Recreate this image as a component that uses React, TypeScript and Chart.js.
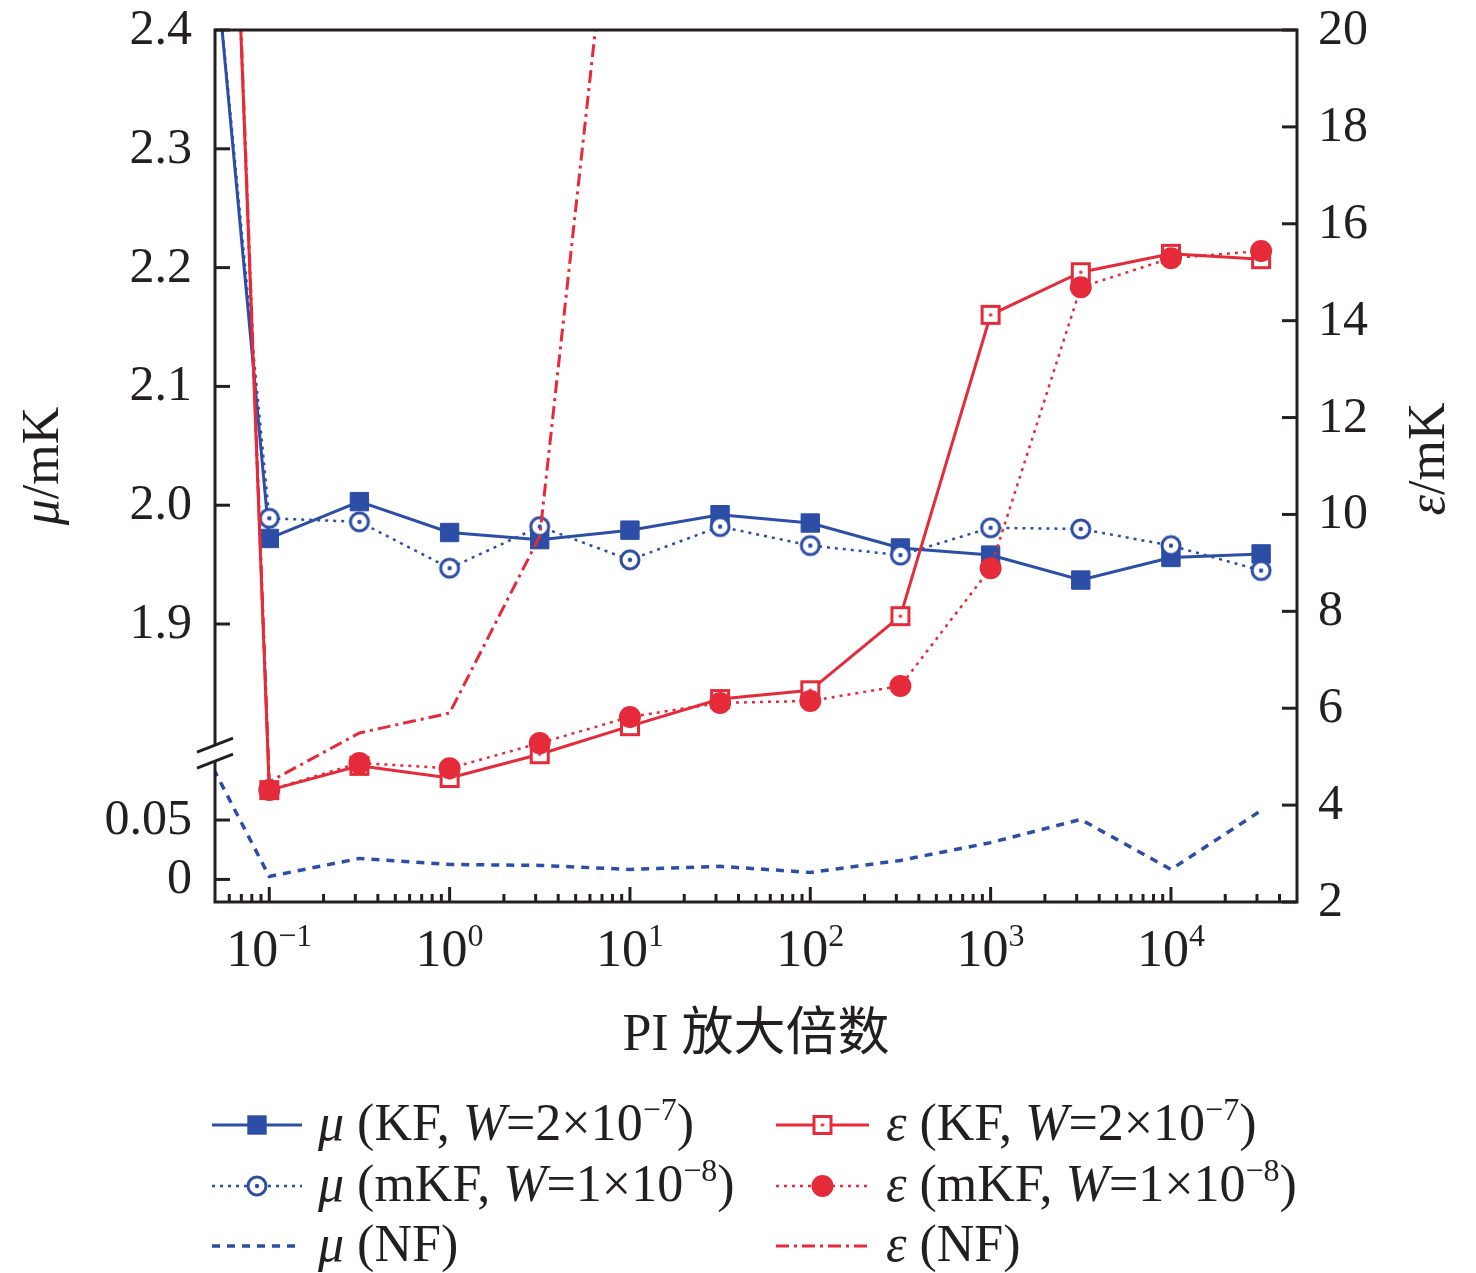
import { useEffect, useRef } from 'react';
import { Chart, registerables } from 'chart.js';
import type { Plugin } from 'chart.js';

Chart.register(...registerables);

// PI gain, half-decade steps (first point lies left of the plotted range)
const PI_GAIN = [0.0316, 0.1, 0.316, 1, 3.16, 10, 31.6, 100, 316, 1000, 3162, 10000, 31623];

// μ in mK (left axis, broken)
const MU_KF = [2.79, 1.972, 2.003, 1.977, 1.971, 1.979, 1.992, 1.985, 1.964, 1.958, 1.937, 1.956, 1.959];
const MU_MKF = [2.78, 1.989, 1.986, 1.947, 1.982, 1.954, 1.982, 1.966, 1.958, 1.981, 1.98, 1.966, 1.945];
const MU_NF = [0.149, 0.0025, 0.0177, 0.0126, 0.0118, 0.0084, 0.011, 0.0059, 0.016, 0.031, 0.0505, 0.0084, 0.058];

// ε in mK (right axis)
const EPS_KF = [54, 4.31, 4.81, 4.56, 5.05, 5.63, 6.19, 6.37, 7.9, 14.12, 15.0, 15.38, 15.27];
const EPS_MKF = [54, 4.31, 4.87, 4.76, 5.28, 5.82, 6.11, 6.15, 6.46, 8.89, 14.69, 15.29, 15.44];
const EPS_NF = [54, 4.48, 5.49, 5.9, 9.55, 26.5];

const X_TICKS = [0.1, 1, 10, 100, 1000, 10000];
const MU_TICKS = [0, 0.05, 1.9, 2.0, 2.1, 2.2, 2.3, 2.4];
const MU_TICK_LABELS = ['0', '0.05', '1.9', '2.0', '2.1', '2.2', '2.3', '2.4'];
const EPS_TICKS = [2, 4, 6, 8, 10, 12, 14, 16, 18, 20];

type Seg = { t: string; i?: boolean; sup?: boolean };

const LEGEND_LABELS: Seg[][] = [
  [{ t: 'μ', i: true }, { t: ' (KF, ' }, { t: 'W', i: true }, { t: '=2×10' }, { t: '−7', sup: true }, { t: ')' }],
  [{ t: 'μ', i: true }, { t: ' (mKF, ' }, { t: 'W', i: true }, { t: '=1×10' }, { t: '−8', sup: true }, { t: ')' }],
  [{ t: 'μ', i: true }, { t: ' (NF)' }],
  [{ t: 'ε', i: true }, { t: ' (KF, ' }, { t: 'W', i: true }, { t: '=2×10' }, { t: '−7', sup: true }, { t: ')' }],
  [{ t: 'ε', i: true }, { t: ' (mKF, ' }, { t: 'W', i: true }, { t: '=1×10' }, { t: '−8', sup: true }, { t: ')' }],
  [{ t: 'ε', i: true }, { t: ' (NF)' }],
];
const X_TITLE = 'PI 放大倍数';
const MU_TITLE: Seg[] = [{ t: 'μ', i: true }, { t: '/mK' }];
const EPS_TITLE: Seg[] = [{ t: 'ε', i: true }, { t: '/mK' }];

// broken left axis: values below 1 are drawn in the lower segment
const MU_AXIS_MIN = 1.666;
const MU_AXIS_MAX = 2.4;
const MU_BREAK = 1.793;
const MU_SHIFT = 1.685;
const muAxis = (v: number) => (v < 1 ? v + MU_SHIFT : v);

const BLUE = '#2d4ea6';
const RED = '#e52b3a';
const INK = '#231f20';
const FONT = '"Liberation Serif", "Times New Roman", "Noto Sans CJK SC", serif';
const FS = 50;

function segFont(s: Seg, size: number) {
  const sz = s.sup ? Math.round(size * 0.62) : size;
  return `${s.i ? 'italic ' : ''}${sz}px ${FONT}`;
}

function richWidth(ctx: CanvasRenderingContext2D, segs: Seg[], size: number) {
  let w = 0;
  for (const s of segs) {
    ctx.font = segFont(s, size);
    w += ctx.measureText(s.t).width;
  }
  return w;
}

function drawRich(ctx: CanvasRenderingContext2D, segs: Seg[], x: number, y: number, size: number) {
  let cx = x;
  ctx.textAlign = 'left';
  ctx.textBaseline = 'alphabetic';
  for (const s of segs) {
    ctx.font = segFont(s, size);
    ctx.fillText(s.t, cx, s.sup ? y - size * 0.38 : y);
    cx += ctx.measureText(s.t).width;
  }
}

function makeMarker(size: number, draw: (ctx: CanvasRenderingContext2D) => void) {
  const c = document.createElement('canvas');
  c.width = size;
  c.height = size;
  const ctx = c.getContext('2d');
  if (ctx) draw(ctx);
  return c;
}

function drawLegendMarker(ctx: CanvasRenderingContext2D, ds: any, x: number, y: number) {
  const ps = ds.pointStyle;
  if (ps instanceof HTMLCanvasElement) {
    ctx.drawImage(ps, x - ps.width / 2, y - ps.height / 2);
  } else if (ds.pointRadius > 0) {
    ctx.fillStyle = ds.pointBackgroundColor;
    if (ps === 'rect') {
      const s = ds.pointRadius * Math.SQRT1_2 + 0.5;
      ctx.fillRect(x - s, y - s, 2 * s, 2 * s);
    } else {
      ctx.beginPath();
      ctx.arc(x, y, ds.pointRadius, 0, Math.PI * 2);
      ctx.fill();
    }
  }
}

const framePlugin: Plugin<'line'> = {
  id: 'frame',
  afterDraw(chart) {
    const { ctx, chartArea: a } = chart;
    const xs = chart.scales.x;
    const yMu = chart.scales.yMu;
    const yEps = chart.scales.yEps;
    ctx.save();
    ctx.strokeStyle = INK;
    ctx.fillStyle = INK;
    ctx.lineWidth = 3;
    ctx.lineJoin = 'miter';
    ctx.lineCap = 'butt';

    // box with a gap on the left axis at the break
    const by = yMu.getPixelForValue(MU_BREAK) + 2;
    ctx.beginPath();
    ctx.moveTo(a.left, by - 8);
    ctx.lineTo(a.left, a.top);
    ctx.lineTo(a.right, a.top);
    ctx.lineTo(a.right, a.bottom);
    ctx.lineTo(a.left, a.bottom);
    ctx.lineTo(a.left, by + 8);
    ctx.stroke();
    for (const d of [-8, 8]) {
      ctx.beginPath();
      ctx.moveTo(a.left - 18, by + d + 7);
      ctx.lineTo(a.left + 18, by + d - 7);
      ctx.stroke();
    }

    // left ticks and labels
    MU_TICKS.forEach((v, i) => {
      const py = yMu.getPixelForValue(muAxis(v));
      ctx.beginPath();
      ctx.moveTo(a.left, py);
      ctx.lineTo(a.left + 15, py);
      ctx.stroke();
      ctx.font = `${FS}px ${FONT}`;
      ctx.textAlign = 'right';
      ctx.textBaseline = 'alphabetic';
      ctx.fillText(MU_TICK_LABELS[i], a.left - 23, py + 14);
    });

    // right ticks and labels
    EPS_TICKS.forEach((v) => {
      const py = yEps.getPixelForValue(v);
      ctx.beginPath();
      ctx.moveTo(a.right - 15, py);
      ctx.lineTo(a.right, py);
      ctx.stroke();
      ctx.font = `${FS}px ${FONT}`;
      ctx.textAlign = 'left';
      ctx.textBaseline = 'alphabetic';
      ctx.fillText(String(v), a.right + 21, py + 14);
    });

    // x minor ticks
    const xmin = xs.min;
    const xmax = xs.max;
    for (let d = -2; d <= 4; d++) {
      for (let m = 2; m <= 9; m++) {
        const v = m * Math.pow(10, d);
        if (v <= xmin * 1.001 || v >= xmax * 0.999) continue;
        const px = xs.getPixelForValue(v);
        ctx.beginPath();
        ctx.moveTo(px, a.bottom);
        ctx.lineTo(px, a.bottom - 8);
        ctx.stroke();
      }
    }
    // x major ticks and labels
    X_TICKS.forEach((v) => {
      const px = xs.getPixelForValue(v);
      ctx.beginPath();
      ctx.moveTo(px, a.bottom);
      ctx.lineTo(px, a.bottom - 15);
      ctx.stroke();
      const e = Math.round(Math.log10(v));
      const segs: Seg[] = [{ t: '10' }, { t: e < 0 ? '−' + -e : String(e), sup: true }];
      const w = richWidth(ctx, segs, FS + 2);
      drawRich(ctx, segs, px - w / 2, a.bottom + 64, FS + 2);
    });

    // axis titles
    ctx.font = `${FS + 2}px ${FONT}`;
    ctx.textAlign = 'center';
    ctx.textBaseline = 'alphabetic';
    ctx.fillText(X_TITLE, (a.left + a.right) / 2, 1050);

    const rotTitle = (segs: Seg[], bx: number, cy: number) => {
      ctx.save();
      ctx.translate(bx, cy);
      ctx.rotate(-Math.PI / 2);
      const w = richWidth(ctx, segs, FS + 2);
      drawRich(ctx, segs, -w / 2, 0, FS + 2);
      ctx.restore();
    };
    rotTitle(MU_TITLE, 58, 466);
    rotTitle(EPS_TITLE, 1444, 459);

    // legend, two columns of three rows
    const sampleX = [[212, 302], [776, 869]];
    const textX = [318, 886];
    const rowY = [1125, 1186, 1246];
    chart.data.datasets.forEach((ds: any, i) => {
      const col = i < 3 ? 0 : 1;
      const y = rowY[i % 3];
      const [x0, x1] = sampleX[col];
      ctx.save();
      ctx.strokeStyle = ds.borderColor;
      ctx.lineWidth = ds.borderWidth;
      ctx.setLineDash(ds.borderDash || []);
      ctx.beginPath();
      ctx.moveTo(x0, y);
      ctx.lineTo(x1, y);
      ctx.stroke();
      ctx.restore();
      drawLegendMarker(ctx, ds, (x0 + x1) / 2, y);
      ctx.fillStyle = INK;
      drawRich(ctx, LEGEND_LABELS[i], textX[col], y + 15, FS + 2);
    });

    ctx.restore();
  },
};

export default function App() {
  const canvasRef = useRef<HTMLCanvasElement | null>(null);
  const chartInstance = useRef<Chart | null>(null);

  useEffect(() => {
    if (!canvasRef.current) return;
    if (chartInstance.current) chartInstance.current.destroy();

    const circleDot = makeMarker(26, (ctx) => {
      ctx.fillStyle = '#fff';
      ctx.strokeStyle = BLUE;
      ctx.lineWidth = 3;
      ctx.beginPath();
      ctx.arc(13, 13, 9, 0, Math.PI * 2);
      ctx.fill();
      ctx.stroke();
      ctx.fillStyle = BLUE;
      ctx.beginPath();
      ctx.arc(13, 13, 2.2, 0, Math.PI * 2);
      ctx.fill();
    });
    const squareDot = makeMarker(24, (ctx) => {
      ctx.fillStyle = '#fff';
      ctx.strokeStyle = RED;
      ctx.lineWidth = 3;
      ctx.fillRect(3.5, 3.5, 17, 17);
      ctx.strokeRect(3.5, 3.5, 17, 17);
      ctx.fillStyle = RED;
      ctx.beginPath();
      ctx.arc(12, 12, 1.8, 0, Math.PI * 2);
      ctx.fill();
    });

    const pts = (vals: number[], f: (v: number) => number = (v) => v) =>
      vals.map((v, i) => ({ x: PI_GAIN[i], y: f(v) }));

    chartInstance.current = new Chart(canvasRef.current, {
      type: 'line',
      data: {
        datasets: [
          {
            label: 'μ (KF, W=2×10⁻⁷)',
            data: pts(MU_KF, muAxis),
            yAxisID: 'yMu',
            borderColor: BLUE,
            borderWidth: 3,
            pointStyle: 'rect',
            pointRadius: 13,
            pointBackgroundColor: BLUE,
            pointBorderColor: BLUE,
            pointBorderWidth: 1,
            order: 6,
          },
          {
            label: 'μ (mKF, W=1×10⁻⁸)',
            data: pts(MU_MKF, muAxis),
            yAxisID: 'yMu',
            borderColor: BLUE,
            borderWidth: 2.5,
            borderDash: [3, 5],
            pointStyle: circleDot,
            pointRadius: 10,
            order: 5,
          },
          {
            label: 'μ (NF)',
            data: pts(MU_NF, muAxis),
            yAxisID: 'yMu',
            borderColor: BLUE,
            borderWidth: 3.5,
            borderDash: [8, 7],
            pointRadius: 0,
            order: 4,
          },
          {
            label: 'ε (KF, W=2×10⁻⁷)',
            data: pts(EPS_KF),
            yAxisID: 'yEps',
            borderColor: RED,
            borderWidth: 3,
            pointStyle: squareDot,
            pointRadius: 10,
            order: 3,
          },
          {
            label: 'ε (mKF, W=1×10⁻⁸)',
            data: pts(EPS_MKF),
            yAxisID: 'yEps',
            borderColor: RED,
            borderWidth: 2.5,
            borderDash: [3, 5],
            pointStyle: 'circle',
            pointRadius: 11,
            pointBackgroundColor: RED,
            pointBorderColor: RED,
            pointBorderWidth: 0,
            order: 2,
          },
          {
            label: 'ε (NF)',
            data: pts(EPS_NF),
            yAxisID: 'yEps',
            borderColor: RED,
            borderWidth: 3,
            borderDash: [13, 5, 3, 5],
            pointRadius: 0,
            order: 1,
          },
        ],
      },
      options: {
        animation: false,
        responsive: true,
        maintainAspectRatio: false,
        layout: { padding: { top: 30, left: 0, right: 0, bottom: 0 } },
        plugins: {
          legend: { display: false },
          tooltip: { enabled: false },
        },
        scales: {
          x: {
            type: 'logarithmic',
            position: 'bottom',
            min: 0.05,
            max: 50000,
            grid: { display: false },
            border: { display: false },
            ticks: { display: false },
            afterFit: (s: any) => {
              s.height = 371;
            },
          },
          yMu: {
            type: 'linear',
            position: 'left',
            min: MU_AXIS_MIN,
            max: MU_AXIS_MAX,
            grid: { display: false },
            border: { display: false },
            ticks: { display: false },
            afterFit: (s: any) => {
              s.width = 215;
            },
          },
          yEps: {
            type: 'linear',
            position: 'right',
            min: 2,
            max: 20,
            grid: { display: false },
            border: { display: false },
            ticks: { display: false },
            afterFit: (s: any) => {
              s.width = 179;
            },
          },
        },
      },
      plugins: [framePlugin],
    });

    return () => {
      if (chartInstance.current) {
        chartInstance.current.destroy();
        chartInstance.current = null;
      }
    };
  }, []);

  return (
    <div style={{ position: 'fixed', left: 0, top: 0, width: 1476, height: 1273, background: '#fff' }}>
      <canvas ref={canvasRef}></canvas>
    </div>
  );
}
